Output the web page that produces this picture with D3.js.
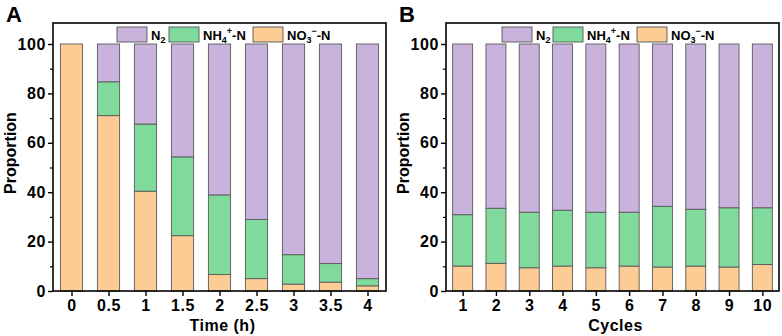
<!DOCTYPE html>
<html>
<head>
<meta charset="utf-8">
<script src="https://cdn.jsdelivr.net/npm/d3@7"></script>
<style>
  body { margin: 0; background: #fff; }
  svg { font-family: "Liberation Sans", Arial, sans-serif; }
</style>
</head>
<body>
<div id="chart"></div>
<script>
const width = 782, height = 336;

// panel A: time course
const timeLabels = ["0", "0.5", "1", "1.5", "2", "2.5", "3", "3.5", "4"];
const timeNO3 = [100, 71, 40.4, 22.4, 6.7, 5.0, 2.8, 3.6, 2.1];
const timeNH4 = [0, 13.7, 27.2, 31.9, 32.2, 24.0, 11.9, 7.5, 2.9];

// panel B: cycles
const cycleLabels = ["1", "2", "3", "4", "5", "6", "7", "8", "9", "10"];
const cycleNO3 = [10.1, 11.2, 9.4, 10.1, 9.4, 10.1, 9.7, 10.1, 9.7, 10.7];
const cycleNH4 = [20.8, 22.3, 22.5, 22.6, 22.5, 21.8, 24.6, 23.0, 24.0, 23.0];

const yTicks = [0, 20, 40, 60, 80, 100];
const keys = ["NO3", "NH4", "N2"];
const colors = { N2: "#c9b2dc", NH4: "#80da9b", NO3: "#fdcb94" };

const svg = d3.select("#chart").append("svg")
  .attr("width", width).attr("height", height);

function panel(opt) {
  const { left, right, top, bottom, labels, no3, nh4, xTitle, tag, legendX } = opt;
  const rows = labels.map((l, i) => ({ label: l, NO3: no3[i], NH4: nh4[i], N2: 100 - no3[i] - nh4[i] }));

  const x = d3.scalePoint().domain(labels).range([left, right]).padding(0.5);
  const y = d3.scaleLinear().domain([0, 108.5]).range([bottom, top]);
  const bw = x.step() * 0.6;

  const g = svg.append("g");

  const stack = d3.stack().keys(keys)(rows);
  g.selectAll("g.layer").data(stack).join("g")
    .attr("fill", d => colors[d.key])
    .selectAll("rect").data(d => d).join("rect")
    .attr("x", d => x(d.data.label) - bw / 2)
    .attr("width", bw)
    .attr("y", d => y(d[1]))
    .attr("height", d => Math.max(0, y(d[0]) - y(d[1])))
    .attr("stroke", "#5a5a5a")
    .attr("stroke-width", 0.9);

  // frame
  g.append("rect")
    .attr("x", left).attr("y", top)
    .attr("width", right - left).attr("height", bottom - top)
    .attr("fill", "none").attr("stroke", "#000").attr("stroke-width", 1.6);

  // y axis
  const ya = g.append("g").attr("transform", `translate(${left},0)`)
    .call(d3.axisLeft(y).tickValues(yTicks).tickSize(5).tickPadding(2));
  ya.select(".domain").remove();
  ya.selectAll("line").attr("stroke-width", 1.4);
  ya.selectAll("text").attr("font-size", 16).attr("font-weight", "bold")
    .attr("letter-spacing", 0.6).attr("fill", "#000");
  g.append("g").attr("transform", `translate(${left},0)`)
    .call(d3.axisLeft(y).tickValues([10, 30, 50, 70, 90]).tickSize(3).tickFormat(""))
    .call(a => a.select(".domain").remove())
    .selectAll("line").attr("stroke-width", 1.2);

  // x axis
  const xa = g.append("g").attr("transform", `translate(0,${bottom})`)
    .call(d3.axisBottom(x).tickSize(5).tickPadding(4));
  xa.select(".domain").remove();
  xa.selectAll("line").attr("stroke-width", 1.4);
  xa.selectAll("text").attr("font-size", 16).attr("font-weight", "bold")
    .attr("letter-spacing", 0.6).attr("fill", "#000");

  g.append("text").attr("x", (left + right) / 2 + 3).attr("y", 331)
    .attr("text-anchor", "middle").attr("font-size", 16).attr("font-weight", "bold")
    .attr("letter-spacing", 0.5).text(xTitle);
  g.append("text")
    .attr("transform", `translate(${left - 37},${(top + bottom) / 2 - 4}) rotate(-90)`)
    .attr("text-anchor", "middle").attr("font-size", 16).attr("font-weight", "600")
    .text("Proportion");
  g.append("text").attr("x", left - 47).attr("y", 22)
    .attr("font-size", 22).attr("font-weight", "bold").text(tag);

  // legend
  const items = [
    { key: "N2", base: "N", sub: "2", sup: "", tail: "", dx: 0 },
    { key: "NH4", base: "NH", sub: "4", sup: "+", tail: "-N", dx: legendX[1] },
    { key: "NO3", base: "NO", sub: "3", sup: "\u2212", tail: "-N", dx: legendX[2] }
  ];
  const lg = g.append("g").attr("transform", `translate(${legendX[0]},27)`);
  items.forEach(it => {
    lg.append("rect").attr("x", it.dx).attr("y", 0).attr("width", 30).attr("height", 15)
      .attr("fill", colors[it.key]).attr("stroke", "#555").attr("stroke-width", 0.9);
    const t = lg.append("text").attr("x", it.dx + 34).attr("y", 13)
      .attr("font-size", 13).attr("font-weight", "bold");
    t.append("tspan").text(it.base);
    t.append("tspan").attr("font-size", 9).attr("dy", 3).text(it.sub);
    if (it.sup) t.append("tspan").attr("font-size", 9).attr("dy", -9).text(it.sup);
    if (it.tail) t.append("tspan").attr("dy", it.sup ? 6 : 0).text(it.tail);
  });
}

panel({ left: 53, right: 386, top: 23, bottom: 291, labels: timeLabels,
  no3: timeNO3, nh4: timeNH4, xTitle: "Time (h)", tag: "A", legendX: [117, 52, 136] });
panel({ left: 446, right: 779, top: 23, bottom: 291, labels: cycleLabels,
  no3: cycleNO3, nh4: cycleNH4, xTitle: "Cycles", tag: "B", legendX: [502, 51, 135] });
</script>
</body>
</html>
